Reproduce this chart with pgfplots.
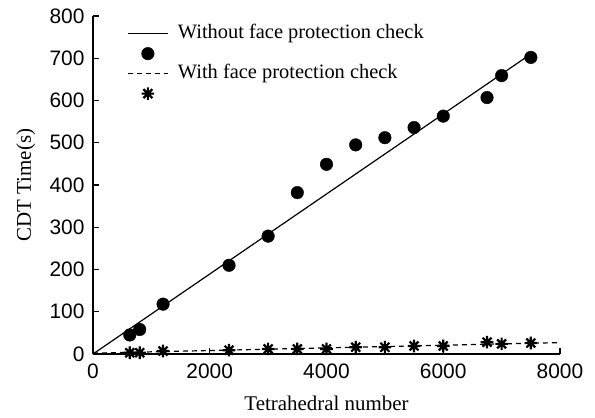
\documentclass[border=0pt]{standalone}
\usepackage{fontspec}
\setmainfont{Liberation Serif}
\newfontfamily\tickfont{Liberation Sans}
\usepackage{pgfplots}
\pgfplotsset{compat=1.18}

% eight-armed asterisk used for the "with check" timings
\pgfdeclareplotmark{octstar}{%
  \pgfpathmoveto{\pgfqpoint{-\pgfplotmarksize}{0pt}}\pgfpathlineto{\pgfqpoint{\pgfplotmarksize}{0pt}}%
  \pgfpathmoveto{\pgfqpoint{0pt}{-\pgfplotmarksize}}\pgfpathlineto{\pgfqpoint{0pt}{\pgfplotmarksize}}%
  \pgfpathmoveto{\pgfqpoint{-0.707\pgfplotmarksize}{-0.707\pgfplotmarksize}}\pgfpathlineto{\pgfqpoint{0.707\pgfplotmarksize}{0.707\pgfplotmarksize}}%
  \pgfpathmoveto{\pgfqpoint{-0.707\pgfplotmarksize}{0.707\pgfplotmarksize}}\pgfpathlineto{\pgfqpoint{0.707\pgfplotmarksize}{-0.707\pgfplotmarksize}}%
  \pgfusepathqstroke}

\begin{document}
\begin{tikzpicture}
\begin{axis}[
  scale only axis, width=467bp, height=338bp,
  xmin=0, xmax=8000, ymin=0, ymax=800,
  axis x line*=bottom, axis y line*=left,
  axis line style={-, line width=1.4bp},
  xtick={0,2000,...,8000}, ytick={0,100,...,800},
  tick align=inside, major tick length=6bp,
  tick style={line width=1.4bp, black},
  scaled x ticks=false,
  x tick label style={/pgf/number format/1000 sep={}, yshift=-6bp},
  y tick label style={xshift=-5bp},
  ticklabel style={font=\tickfont\fontsize{21}{25}\selectfont},
  /pgf/number format/assume math mode=true,
  xlabel={Tetrahedral number}, ylabel={CDT Time(s)},
  label style={font=\fontsize{21}{25}\selectfont},
  xlabel style={at={(axis description cs:0.5,-0.145)}, anchor=center},
  ylabel style={at={(axis description cs:-0.144,0.5)}, anchor=center},
  legend cell align=left,
  legend image code/.code={%
    \draw[mark repeat=2,mark phase=2,#1] plot coordinates {(0bp,0bp) (20bp,0bp) (40bp,0bp)};
    \path[draw=none, fill=none] (0bp,0bp) (49bp,0bp);},
  legend style={draw=none, fill=none, at={(axis description cs:0.073,0.978)}, anchor=north west,
    font=\fontsize{20.5}{24}\selectfont, row sep=0pt, inner sep=0pt,
    nodes={inner sep=1bp, text height=14bp, text depth=4bp}},
]
\addplot[black, line width=1.2bp] coordinates {(0,0) (7500,710)};
\addlegendentry{Without face protection check}
\addplot[black, only marks, mark=*, mark size=6.3bp] coordinates {
  (630,45) (800,58) (1200,118) (2330,210) (3000,279) (3500,382) (4000,449)
  (4500,495) (5000,512) (5500,536) (6000,563) (6750,607) (7000,659) (7500,702)};
\addlegendentry{}
\addplot[black, line width=1.2bp, dash pattern=on 5bp off 4bp] coordinates {(0,2) (8000,27)};
\addlegendentry{With face protection check}
\addplot[black, only marks, mark=octstar, mark size=6.3bp, line width=2.2bp] coordinates {
  (630,3) (800,3) (1200,7) (2330,9) (3000,12) (3500,12) (4000,12)
  (4500,16) (5000,16) (5500,19) (6000,19) (6750,28) (7000,24) (7500,26)};
\addlegendentry{}
\end{axis}
\pgfresetboundingbox
\path (current axis.south west) ++(-93bp,-64bp) rectangle ++(595bp,418bp);
\end{tikzpicture}
\end{document}
